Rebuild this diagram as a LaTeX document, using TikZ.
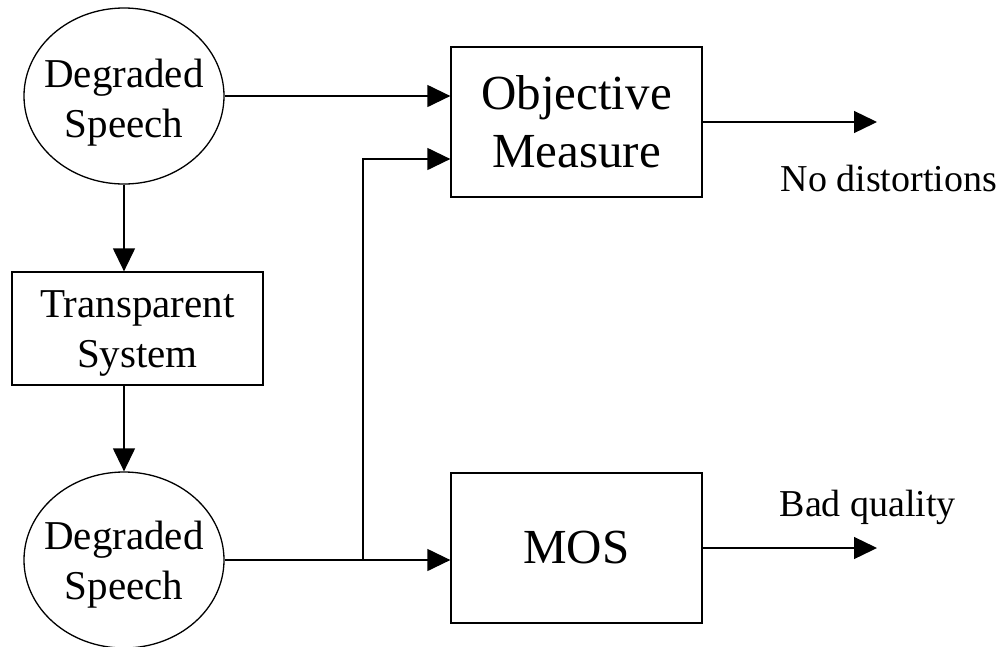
\documentclass[tikz,border=0pt]{standalone}
\usepackage{fontspec}
\setmainfont{Liberation Serif}
\usetikzlibrary{arrows.meta,shapes.geometric}
\begin{document}
\begin{tikzpicture}[x=1pt,y=-1pt,
  line width=1.3pt,
  arr/.style={-{Triangle[length=23pt,width=22pt]}},
  boxnode/.style={draw,rectangle,minimum width=251pt,inner sep=0pt},
  ell/.style={draw,ellipse,minimum width=200pt,minimum height=176pt,inner sep=0pt},
  mid/.style={font=\fontsize{41}{50}\selectfont,align=center,inner sep=0pt},
  big/.style={font=\fontsize{49}{58}\selectfont,align=center},
  lab/.style={font=\fontsize{38}{45}\selectfont,inner sep=0pt}]
\useasboundingbox (0,0) rectangle (998,646);
\node[ell] (ds1) at (124,96) {};
\node[mid] (ds1t) at (124,102.5) {Degraded\\Speech};
\node[boxnode,minimum height=113pt] (ts) at (137.5,328.5) {};
\node[mid] (tst) at (137.5,333.5) {Transparent\\System};
\node[ell] (ds2) at (124,560) {};
\node[mid] (ds2t) at (124,565) {Degraded\\Speech};
\node[boxnode,minimum height=150pt,big] (obj) at (576.5,122) {Objective\\Measure};
\node[boxnode,minimum height=150pt,big] (mos) at (576.5,548) {MOS};
\coordinate (o1) at (877,122);
\coordinate (o2) at (877,548);
\coordinate (j) at (363,560);
\coordinate (k) at (363,159);
\node[lab,anchor=base west] (nd) at (780,191) {No distortions};
\node[lab,anchor=base west] (bq) at (779,516) {Bad quality};
\draw[arr] (ds1.east) -- (ds1.east -| obj.west);
\draw[arr] (ds2.east) -- (ds2.east -| mos.west);
\draw[arr] (j) -- (k) -- (k -| obj.west);
\draw[arr] (ds1.south) -- (ds1.south |- ts.north);
\draw[arr] (ds1.south |- ts.south) -- (ds2.north);
\draw[arr] (obj.east) -- (o1);
\draw[arr] (mos.east) -- (o2);
\end{tikzpicture}
\end{document}
